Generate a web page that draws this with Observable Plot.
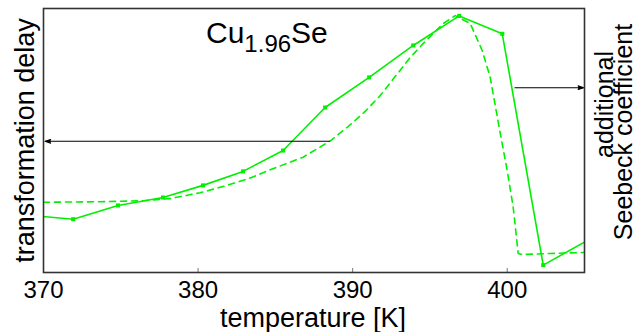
<!DOCTYPE html>
<html>
<head>
<meta charset="utf-8">
<script src="https://cdn.jsdelivr.net/npm/d3@7"></script>
<script src="https://cdn.jsdelivr.net/npm/@observablehq/plot@0.6"></script>
<style>
  html, body { margin: 0; padding: 0; background: #fff; }
  svg { display: block; }
</style>
</head>
<body>
<script>
// ---- data ----
const xTicks = [370, 380, 390, 400];

// measured curve (solid, with markers): temperature [K], arbitrary units
const solidT = [369.05, 371.92, 374.82, 377.73, 380.32, 382.91, 385.50, 388.22, 391.07, 393.92, 396.89, 399.68, 402.33, 405.15];
const solidV = [21.7, 20.2, 25.4, 28.4, 33.0, 38.3, 46.2, 62.5, 73.9, 86.0, 97.2, 90.4, 2.8, 12.0];

// model curve (dashed)
const dashT = [370.00, 373.66, 376.44, 378.19, 380.13, 381.88, 383.37, 384.66, 386.80, 388.54, 389.71, 390.81, 391.78, 392.75, 393.72, 394.56, 395.86, 396.64, 397.61, 398.38, 398.90, 399.55, 400.00, 400.39, 400.71, 400.97, 402.78, 404.98];
const dashV = [26.6, 26.8, 27.2, 28.0, 30.2, 33.0, 35.8, 38.9, 43.7, 49.8, 55.3, 61.0, 67.0, 74.2, 81.4, 86.7, 94.3, 97.3, 94.3, 84.1, 73.9, 52.7, 38.6, 24.6, 7.2, 6.8, 7.2, 7.6];

// arrows pointing to the axes
const arrowX1 = [388.5, 400.5];
const arrowX2 = [370.1, 404.95];
const arrowY = [49.7, 70.0];

// texts
const titleText = "Cu1.96Se";
const xLabel = "temperature [K]";
const yLabelLeft = "transformation delay";
const yLabelRight = ["additional", "Seebeck coefficient"];

// ---- tables ----
const solid = solidT.map((t, i) => ({t, v: solidV[i]}));
const solidPts = solid.filter(d => d.t >= 370 && d.t <= 405);
const dashed = dashT.map((t, i) => ({t, v: dashV[i]}));
const arrows = arrowX1.map((x1, i) => ({x1, x2: arrowX2[i], y: arrowY[i]}));

const green = "#00f000";

const chart = Plot.plot({
  width: 636,
  height: 332,
  marginLeft: 43,
  marginRight: 52,
  marginTop: 8,
  marginBottom: 60,
  style: {fontFamily: "'Liberation Sans', Arial, Helvetica, sans-serif", fontSize: "24px", background: "white", color: "black"},
  x: {domain: [370, 405], axis: null},
  y: {domain: [0, 100], axis: null},
  marks: [
    Plot.line(dashed, {x: "t", y: "v", stroke: green, strokeWidth: 1.6, strokeDasharray: "6,5", clip: true}),
    Plot.line(solid, {x: "t", y: "v", stroke: green, strokeWidth: 1.6, clip: true}),
    Plot.dot(solidPts, {x: "t", y: "v", symbol: "square", r: 2.3, fill: green, stroke: "none"}),
    Plot.arrow(arrows, {x1: "x1", x2: "x2", y1: "y", y2: "y", stroke: "black", fill: "black", strokeWidth: 1.1, headLength: 8, headAngle: 36}),
    Plot.ruleX(xTicks, {x: d => d, insetTop: 260, stroke: "#777", strokeWidth: 1}),
    Plot.frame({stroke: "#333", strokeWidth: 1.6}),
    Plot.axisX({ticks: xTicks, tickSize: 0, tickPadding: 8, fontSize: 24, tickFormat: d => String(d), label: null}),
    Plot.text([xLabel], {frameAnchor: "bottom", text: d => d, fontSize: 27, textAnchor: "middle", lineAnchor: "middle", dy: 45.9, dx: -1}),
    Plot.text([yLabelLeft], {frameAnchor: "left", text: d => d, fontSize: 27, rotate: -90, textAnchor: "middle", lineAnchor: "middle", dx: -18.3}),
    Plot.text([yLabelRight[0]], {frameAnchor: "right", text: d => d, fontSize: 25, rotate: -90, textAnchor: "middle", lineAnchor: "middle", dx: 20.7, dy: -36}),
    Plot.text([yLabelRight[1]], {frameAnchor: "right", text: d => d, fontSize: 25, rotate: -90, textAnchor: "middle", lineAnchor: "middle", dx: 39.7, dy: -8.5}),
    Plot.text([titleText], {frameAnchor: "top-left", text: d => d, fontSize: 30, textAnchor: "start", lineAnchor: "top", dx: 162.5, dy: 12.7})
  ]
});

// subscript in the chemical formula
d3.select(chart).selectAll("text").each(function() {
  if (this.textContent === titleText) {
    const t = d3.select(this);
    t.text(null);
    t.append("tspan").text("Cu");
    t.append("tspan").attr("font-size", 24).attr("dy", 10).text("1.96");
    t.append("tspan").attr("dy", -10).text("Se");
  }
});

document.body.appendChild(chart);
</script>
</body>
</html>
